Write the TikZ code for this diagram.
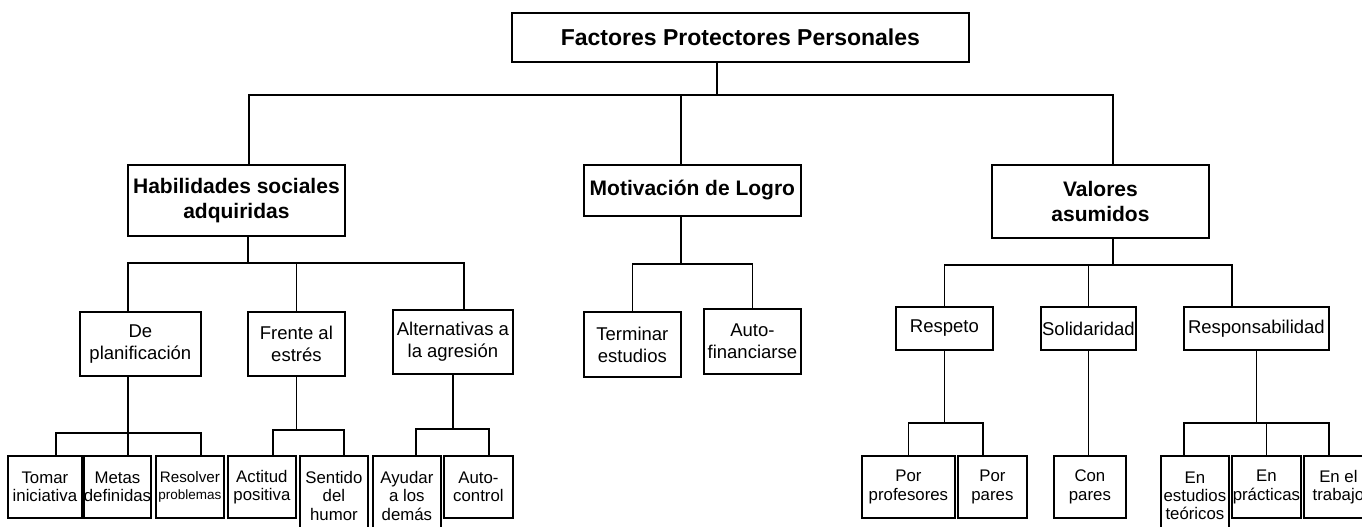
\documentclass[tikz,border=0pt]{standalone}
\usepackage{fontspec}
\setmainfont{Liberation Sans}
\begin{document}
\begin{tikzpicture}[x=1pt, y=-1pt, line width=1.4pt,
    box/.style={draw, line width=1.8pt, inner sep=0pt, align=center, anchor=north west},
    toplevel/.style={box, font=\bfseries\fontsize{23}{27}\selectfont},
    main/.style={box, font=\bfseries\fontsize{21}{25}\selectfont},
    sub/.style={box, font=\fontsize{18.5}{22}\selectfont},
    leaf/.style={box, font=\fontsize{16.8}{18.3}\selectfont, minimum height=62}]
  \useasboundingbox (0,0) rectangle (1362,527);

  % Root and the three main groups
  \node[toplevel, minimum width=457, minimum height=49] (fpp) at (511,12) {Factores Protectores Personales};
  \node[main, minimum width=217, minimum height=71] (hab) at (127,164) {Habilidades sociales\\adquiridas};
  \node[main, minimum width=217, minimum height=51] (mot) at (583,164) {Motivación de Logro};
  \node[main, minimum width=217, minimum height=73] (val) at (991,164) {Valores\\asumidos};

  % Second level
  \node[sub, minimum width=121, minimum height=64] (pla) at (79,311) {De\\planificación};
  \node[sub, minimum width=97, minimum height=64] (fre) at (247,311) {Frente al\\estrés};
  \node[sub, minimum width=120, minimum height=64] (alt) at (392,309) {Alternativas a\\la agresión};
  \node[sub, minimum width=97, minimum height=65] (ter) at (583,311) {Terminar\\estudios};
  \node[sub, minimum width=97, minimum height=65] (aut) at (703,308) {Auto-\\financiarse};
  \node[sub, minimum width=97, minimum height=43] (res) at (895,306) {Respeto};
  \node[sub, minimum width=95, minimum height=43] (sol) at (1040,306) {Solidaridad};
  \node[sub, minimum width=145, minimum height=43] (rsp) at (1183,306) {Responsabilidad};

  % Leaves
  \node[leaf, minimum width=74] (tom) at (7,455) {Tomar\\iniciativa};
  \node[leaf, minimum width=66] (met) at (83,455) {Metas\\definidas};
  \node[leaf, minimum width=68, font=\fontsize{15.2}{17}\selectfont] (rsl) at (155,455) {Resolver\\{\fontsize{13.5}{15}\selectfont problemas}};
  \node[leaf, minimum width=68] (act) at (227,455) {Actitud\\positiva};
  \node[leaf, minimum width=68, minimum height=80] (sen) at (299,455) {Sentido\\del\\humor};
  \node[leaf, minimum width=68, minimum height=80] (ayu) at (372,455) {Ayudar\\a los\\demás};
  \node[leaf, minimum width=69] (ctl) at (443,455) {Auto-\\control};
  \node[leaf, minimum width=93] (pro) at (861,455) {Por\\profesores};
  \node[leaf, minimum width=69] (ppa) at (957,455) {Por\\pares};
  \node[leaf, minimum width=72] (cpa) at (1053,455) {Con\\pares};
  \node[leaf, minimum width=68, minimum height=80] (est) at (1160,455) {En\\estudios\\teóricos};
  \node[leaf, minimum width=69] (pra) at (1231,455) {En\\prácticas};
  \node[leaf, minimum width=69] (tra) at (1303,455) {En el\\trabajo};

  % Root connectors
  \draw ([xshift=-23.5]fpp.south) -- ++(0,32) coordinate (j0);
  \draw ([xshift=12.5]hab.north) |- (j0) -| ([xshift=12.5]val.north);
  \draw ([xshift=-11.5]mot.north) |- (j0);

  % Habilidades
  \draw ([xshift=11.5]hab.south) -- ++(0,26) coordinate (j1);
  \draw ([xshift=-12.5]pla.north) |- (j1) -| ([xshift=11]alt.north);
  \draw (fre.north) |- (j1);

  % Motivacion
  \draw ([xshift=-11.5]mot.south) -- ++(0,47) coordinate (j2);
  \draw (ter.north) |- (j2) -| (aut.north);

  % Valores
  \draw ([xshift=12.5]val.south) -- ++(0,26) coordinate (j3);
  \draw (res.north) |- (j3) -| ([xshift=-24.5]rsp.north);
  \draw (sol.north) |- (j3);

  % Leaves under each group
  \draw ([xshift=-12.5]pla.south) -- ++(0,56) coordinate (j4) -- (j4 |- met.north);
  \draw ([xshift=11]tom.north) |- (j4) -| ([xshift=11]rsl.north);
  \draw (fre.south) -- ++(0,53) coordinate (j5);
  \draw ([xshift=11]act.north) |- (j5) -| ([xshift=10]sen.north);
  \draw (alt.south) -- ++(0,54) coordinate (j6);
  \draw ([xshift=9]ayu.north) |- (j6) -| ([xshift=10.5]ctl.north);
  \draw (res.south) -- ++(0,72) coordinate (j7);
  \draw (pro.north) |- (j7) -| ([xshift=-9.5]ppa.north);
  \draw (sol.south) -- (sol.south |- cpa.north);
  \draw (rsp.south) -- ++(0,72) coordinate (j8);
  \draw ([xshift=-11]est.north) |- (j8) -| ([xshift=-9.5]tra.north);
  \draw (pra.north) |- (j8);
\end{tikzpicture}
\end{document}
